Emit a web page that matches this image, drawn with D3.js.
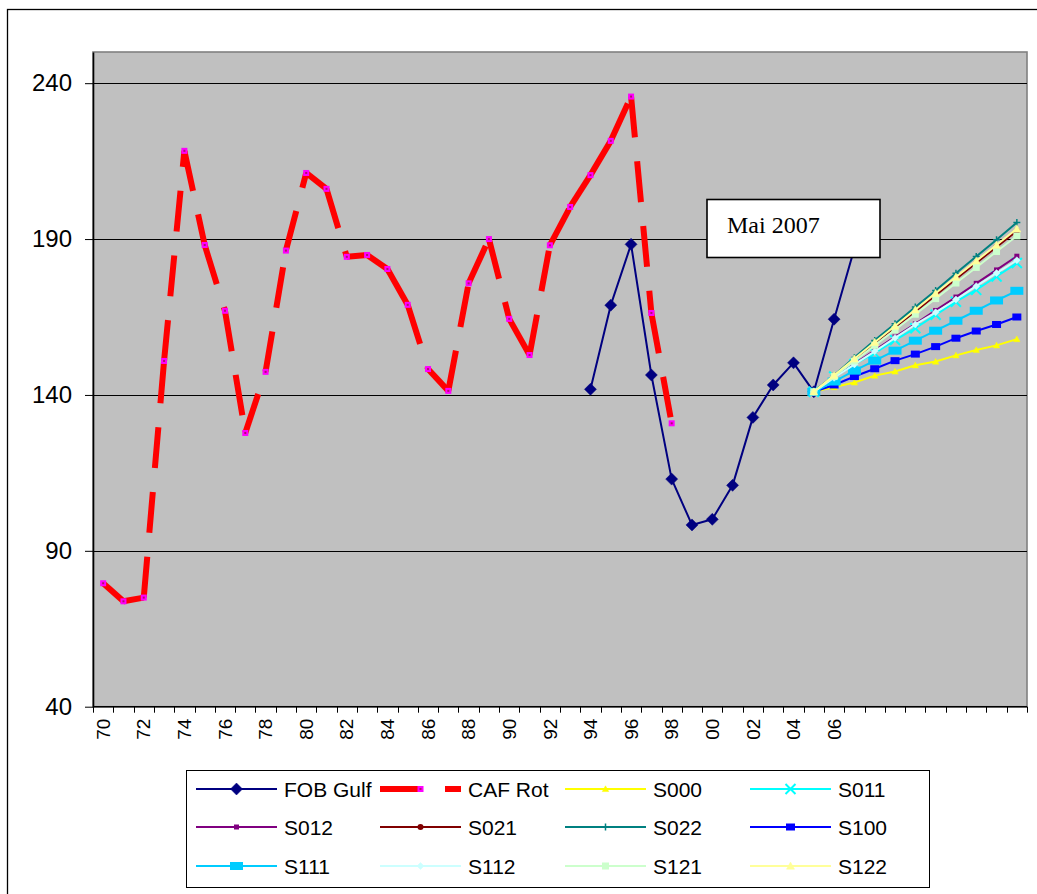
<!DOCTYPE html>
<html>
<head>
<meta charset="utf-8">
<script src="https://cdn.jsdelivr.net/npm/d3@7"></script>
<style>
  body { margin: 0; background: #fff; }
  svg { display: block; }
</style>
</head>
<body>
<svg id="chart" width="1037" height="894"></svg>
<script>
// Category labels, one per year 1970..2015 (only 70..06 are labelled)
const tickLabels = ["70","71","72","73","74","75","76","77","78","79",
  "80","81","82","83","84","85","86","87","88","89",
  "90","91","92","93","94","95","96","97","98","99",
  "00","01","02","03","04","05","06","","","",
  "","","","","",""];
const firstYear = 1970;
const yTicks = [40, 90, 140, 190, 240];

// CAF Rotterdam, 1970..1998
const cafStart = 1970;
const cafRot = [79.6, 73.8, 75.0, 150.9, 218.3, 188.1, 167.0, 127.8, 147.4, 186.3,
  211.2, 206.1, 184.3, 184.9, 180.4, 168.9, 148.3, 141.3, 175.8, 190.0,
  164.4, 152.8, 188.0, 200.3, 210.5, 221.5, 235.7, 166.3, 130.9];

// FOB Gulf, 1994..2007
const fobStart = 1994;
const fobGulf = [141.8, 168.8, 188.3, 146.4, 113.0, 98.3, 100.1, 111.0, 132.8, 143.2,
  150.3, 141.0, 164.3, 187.0];

// Scenarios, 2005..2015
const scenStart = 2005;
const s000 = [141.0, 142.5, 144.0, 146.2, 147.5, 149.5, 150.7, 152.7, 154.4, 155.9, 157.9];
const s011 = [141.0, 145.9, 149.9, 153.4, 157.6, 161.4, 165.7, 169.9, 173.7, 178.0, 182.3];
const s012 = [141.0, 145.6, 150.0, 154.3, 158.6, 162.8, 167.1, 171.4, 175.8, 180.1, 184.5];
const s021 = [141.0, 146.2, 151.4, 156.5, 161.7, 166.8, 172.0, 177.2, 182.3, 187.5, 192.6];
const s022 = [141.0, 146.3, 152.0, 157.5, 162.8, 168.2, 173.5, 179.0, 184.4, 189.8, 195.3];
const s100 = [141.0, 143.2, 145.9, 148.4, 151.0, 153.1, 155.5, 158.2, 160.5, 162.6, 165.0];
const s111 = [141.0, 144.3, 147.8, 151.0, 154.2, 157.4, 160.6, 163.8, 167.0, 170.3, 173.4];
const s112 = [141.0, 145.5, 149.8, 154.0, 158.3, 162.6, 166.5, 170.6, 174.9, 179.1, 183.2];
const s121 = [141.0, 145.9, 150.9, 155.9, 160.9, 165.9, 170.9, 175.9, 180.9, 186.0, 191.0];
const s122 = [141.0, 146.3, 151.6, 156.9, 162.1, 167.3, 172.6, 177.8, 183.0, 188.1, 193.3];

const calloutText = "Mai 2007";

// Series styling
const series = [
  { name: "FOB Gulf", data: fobGulf, start: fobStart, color: "#000080", width: 2,
    marker: { type: "diamond", size: 6, fill: "#000080" } },
  { name: "CAF Rot", data: cafRot, start: cafStart, color: "#FF0000", width: 6, dash: "41 24",
    marker: { type: "caf", size: 3 } },
  { name: "S000", data: s000, start: scenStart, color: "#FFFF00", width: 2,
    marker: { type: "triangle", size: 3.2, fill: "#FFFF00" } },
  { name: "S011", data: s011, start: scenStart, color: "#00FFFF", width: 2,
    marker: { type: "x", size: 5, fill: "#00FFFF" } },
  { name: "S012", data: s012, start: scenStart, color: "#800080", width: 2,
    marker: { type: "square", w: 5, h: 5, fill: "#800080" } },
  { name: "S021", data: s021, start: scenStart, color: "#800000", width: 2,
    marker: { type: "circle", size: 3, fill: "#800000" } },
  { name: "S022", data: s022, start: scenStart, color: "#008080", width: 2,
    marker: { type: "plus", size: 3.5, fill: "#008080" } },
  { name: "S100", data: s100, start: scenStart, color: "#0000FF", width: 2,
    marker: { type: "square", w: 9, h: 7, fill: "#0000FF" } },
  { name: "S111", data: s111, start: scenStart, color: "#00CCFF", width: 2,
    marker: { type: "square", w: 13, h: 8, fill: "#00CCFF" } },
  { name: "S112", data: s112, start: scenStart, color: "#CCFFFF", width: 2,
    marker: { type: "diamond", size: 3.5, fill: "#CCFFFF" } },
  { name: "S121", data: s121, start: scenStart, color: "#CCFFCC", width: 2,
    marker: { type: "square", w: 7, h: 7, fill: "#CCFFCC" } },
  { name: "S122", data: s122, start: scenStart, color: "#FFFF99", width: 2,
    marker: { type: "triangle", size: 4, fill: "#FFFF99" } }
];

const svg = d3.select("#chart");
const plot = { left: 93, right: 1027, top: 52, bottom: 706.7 };

const x = d3.scaleBand()
  .domain(d3.range(tickLabels.length))
  .range([plot.left, plot.right])
  .paddingInner(0).paddingOuter(0);
const cx = i => x(i) + x.bandwidth() / 2;
const y = d3.scaleLinear().domain([40, 250]).range([plot.bottom, plot.top]);

// Outer chart frame
svg.append("rect")
  .attr("x", 7.5).attr("y", 9.5)
  .attr("width", 1040).attr("height", 900)
  .attr("fill", "#fff").attr("stroke", "#000").attr("stroke-width", 1.3);

// Plot area
svg.append("rect")
  .attr("x", plot.left).attr("y", plot.top)
  .attr("width", plot.right - plot.left).attr("height", plot.bottom - plot.top)
  .attr("fill", "#C0C0C0").attr("stroke", "#808080").attr("stroke-width", 1.6);

// Horizontal gridlines
svg.append("g").selectAll("line")
  .data(yTicks.filter(v => v > 40))
  .join("line")
  .attr("x1", plot.left).attr("x2", plot.right)
  .attr("y1", d => Math.round(y(d)) + 0.5).attr("y2", d => Math.round(y(d)) + 0.5)
  .attr("stroke", "#000").attr("stroke-width", 1);

// Y axis
const yAxis = svg.append("g")
  .attr("transform", `translate(${plot.left},0)`)
  .call(d3.axisLeft(y).tickValues(yTicks).tickSizeInner(8).tickSizeOuter(0)
    .tickPadding(13).tickFormat(d3.format("d")));
yAxis.select(".domain").attr("stroke", "#000").attr("stroke-width", 1.6);
yAxis.selectAll(".tick line").attr("stroke", "#000");
yAxis.selectAll(".tick text")
  .attr("font-family", "Arial, 'Liberation Sans', sans-serif")
  .attr("font-size", 24).attr("fill", "#000");

// X axis: baseline, ticks between categories, rotated labels
const xAxis = svg.append("g");
xAxis.append("line")
  .attr("x1", plot.left).attr("x2", plot.right)
  .attr("y1", plot.bottom).attr("y2", plot.bottom)
  .attr("stroke", "#000").attr("stroke-width", 1.6);
xAxis.selectAll("line.tk")
  .data(d3.range(tickLabels.length + 1))
  .join("line").attr("class", "tk")
  .attr("x1", i => Math.round(plot.left + i * x.bandwidth()) + 0.5)
  .attr("x2", i => Math.round(plot.left + i * x.bandwidth()) + 0.5)
  .attr("y1", plot.bottom).attr("y2", plot.bottom + 6)
  .attr("stroke", "#000").attr("stroke-width", 1);
xAxis.selectAll("text")
  .data(tickLabels.map((t, i) => ({ t, i })).filter(d => d.i % 2 === 0 && d.t !== ""))
  .join("text")
  .attr("transform", d => `translate(${cx(d.i)},${plot.bottom + 12}) rotate(-90)`)
  .attr("text-anchor", "end")
  .attr("dy", "0.35em")
  .attr("font-family", "Arial, 'Liberation Sans', sans-serif")
  .attr("font-size", 19)
  .attr("fill", "#000")
  .text(d => d.t);

// Marker drawing
function drawMarker(g, m, px, py, color) {
  const s = m.size;
  if (m.type === "diamond") {
    g.append("path").attr("d", `M${px},${py - s}L${px + s},${py}L${px},${py + s}L${px - s},${py}Z`)
      .attr("fill", m.fill).attr("stroke", m.fill).attr("stroke-width", 0.5);
  } else if (m.type === "triangle") {
    g.append("path").attr("d", `M${px},${py - s}L${px + s},${py + s * 0.8}L${px - s},${py + s * 0.8}Z`)
      .attr("fill", m.fill).attr("stroke", m.fill).attr("stroke-width", 0.5);
  } else if (m.type === "x") {
    g.append("path").attr("d", `M${px - s},${py - s}L${px + s},${py + s}M${px - s},${py + s}L${px + s},${py - s}`)
      .attr("stroke", m.fill).attr("stroke-width", 2).attr("fill", "none");
  } else if (m.type === "plus") {
    g.append("path").attr("d", `M${px - s},${py}L${px + s},${py}M${px},${py - s}L${px},${py + s}`)
      .attr("stroke", m.fill).attr("stroke-width", 1.5).attr("fill", "none");
  } else if (m.type === "square") {
    g.append("rect").attr("x", px - m.w / 2).attr("y", py - m.h / 2)
      .attr("width", m.w).attr("height", m.h).attr("fill", m.fill);
  } else if (m.type === "circle") {
    g.append("circle").attr("cx", px).attr("cy", py).attr("r", s).attr("fill", m.fill);
  } else if (m.type === "caf") {
    g.append("rect").attr("x", px - 3).attr("y", py - 3).attr("width", 6).attr("height", 6)
      .attr("fill", "#FF00FF");
    g.append("rect").attr("x", px - 1).attr("y", py - 1).attr("width", 2).attr("height", 2)
      .attr("fill", "#B0106A");
  }
}

const line = d3.line().x(d => d[0]).y(d => d[1]);

// Series lines and markers
const seriesG = svg.append("g");
series.forEach(s => {
  const pts = s.data.map((v, k) => [cx(s.start - firstYear + k), y(v)]);
  const g = seriesG.append("g");
  if (s.dash) {
    // dash pattern restarts at every vertex
    d3.pairs(pts).forEach(seg => {
      g.append("path").attr("d", line(seg))
        .attr("fill", "none").attr("stroke", s.color).attr("stroke-width", s.width)
        .attr("stroke-dasharray", s.dash).attr("stroke-linecap", "butt");
    });
  } else {
    g.append("path").attr("d", line(pts))
      .attr("fill", "none").attr("stroke", s.color).attr("stroke-width", s.width)
      .attr("stroke-linejoin", "round");
  }
  pts.forEach(p => drawMarker(g, s.marker, p[0], p[1], s.color));
});

// Callout box
const callout = svg.append("g");
callout.append("rect")
  .attr("x", 707).attr("y", 199.5).attr("width", 173).attr("height", 58)
  .attr("fill", "#fff").attr("stroke", "#000").attr("stroke-width", 1.6);
callout.append("text")
  .attr("x", 727).attr("y", 232.5)
  .attr("font-family", "'Times New Roman', 'Liberation Serif', serif")
  .attr("font-size", 24).attr("fill", "#000")
  .text(calloutText);

// Legend
const legend = svg.append("g");
legend.append("rect")
  .attr("x", 186.5).attr("y", 770.5).attr("width", 743).attr("height", 117)
  .attr("fill", "#fff").attr("stroke", "#000").attr("stroke-width", 1);
const colX = [196, 380, 565, 750];
const rowY = [789, 827, 866];
const sampleLen = 81;
series.forEach((s, i) => {
  const lx = colX[i % 4], ly = rowY[Math.floor(i / 4)];
  const g = legend.append("g");
  g.append("path").attr("d", line([[lx, ly], [lx + sampleLen, ly]]))
    .attr("fill", "none").attr("stroke", s.color).attr("stroke-width", s.width)
    .attr("stroke-dasharray", s.dash || null);
  drawMarker(g, s.marker, lx + sampleLen / 2, ly, s.color);
  g.append("text")
    .attr("x", lx + 88).attr("y", ly).attr("dy", "0.36em")
    .attr("font-family", "Arial, 'Liberation Sans', sans-serif")
    .attr("font-size", 21).attr("fill", "#000")
    .text(s.name);
});
</script>
</body>
</html>
